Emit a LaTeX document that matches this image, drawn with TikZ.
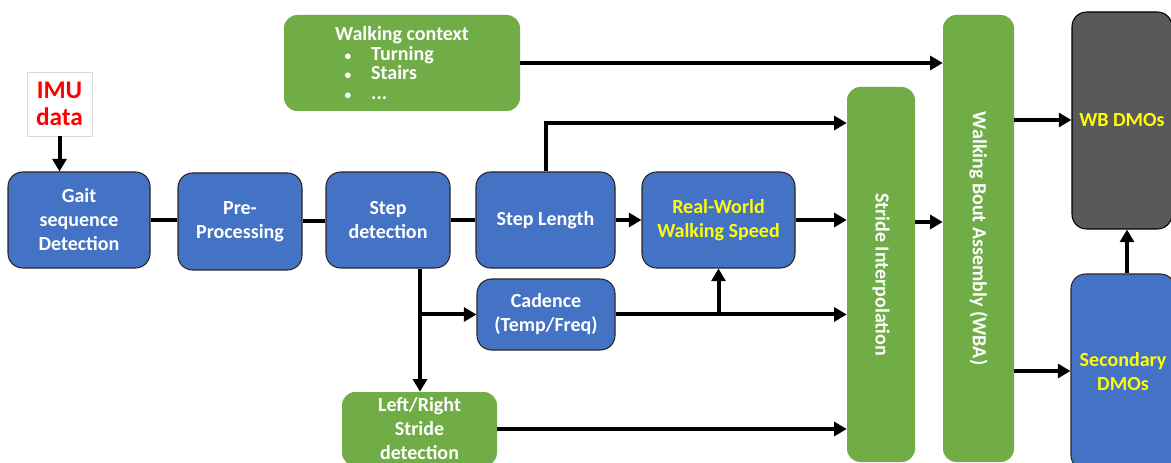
\documentclass[tikz,border=0pt]{standalone}
\usepackage{fontspec}
\setmainfont{Carlito}
\usetikzlibrary{arrows.meta}
\definecolor{blueb}{HTML}{4472C4}
\definecolor{greenb}{HTML}{70AD47}
\definecolor{grayb}{HTML}{595959}
\definecolor{yel}{HTML}{FFFF00}
\definecolor{imured}{HTML}{FF0000}
\newcommand{\smbul}{\hspace*{6.5pt}\makebox[6pt]{\fontsize{10}{10}\selectfont •}\hspace*{14.5pt}}
\begin{document}
\begin{tikzpicture}[x=0.75pt,y=-0.75pt,
  font=\bfseries\fontsize{15}{18}\selectfont,
  bluebox/.style={draw=black!85, line width=0.8pt, fill=blueb, rounded corners=11pt, text=white, align=center, inner sep=2pt},
  greenbox/.style={fill=greenb, rounded corners=10pt, text=white, align=center, inner sep=2pt},
  darkbox/.style={draw=black, line width=0.8pt, fill=grayb, rounded corners=11pt, text=yel, align=center},
  conn/.style={line width=3pt},
  arr/.style={line width=3pt, -{Triangle[length=9.5pt,width=10.5pt]}}]
\clip (0,0) rectangle (1171,463);
\fill[white] (0,0) rectangle (1171,463);
% nodes
\node[draw=black!15, line width=0.6pt, fill=white, text=imured, align=center, minimum width=48.75pt, minimum height=48pt, inner sep=1pt,
  font=\bfseries\fontsize{19}{20}\selectfont] (imu) at (59.5,104) {IMU\\data};
\node[bluebox, minimum width=106.5pt, minimum height=72pt] (gait) at (79,220) {Gait\\sequence\\Detection};
\node[bluebox, minimum width=93pt, minimum height=72.75pt] (pre) at (240,221.5) {Pre-\\Processing};
\node[bluebox, minimum width=93pt, minimum height=72pt] (stepdet) at (388,220) {Step\\detection};
\node[bluebox, minimum width=104.25pt, minimum height=72pt] (steplen) at (545.5,220) {Step Length};
\node[bluebox, minimum width=114.75pt, minimum height=72pt, text=yel] (speed) at (718.5,220) {Real-World\\Walking Speed};
\node[bluebox, minimum width=103.5pt, minimum height=53.25pt] (cad) at (546,314.5) {Cadence\\(Temp/Freq)};
\node[greenbox, minimum width=116.25pt, minimum height=55.5pt] (lr) at (419.5,429) {Left/Right\\Stride\\detection};
\node[greenbox, minimum width=177pt, minimum height=72pt, align=left, font=\bfseries\fontsize{15}{14.6}\selectfont] (ctx) at (402,63)
  {Walking context\\\smbul Turning\\\smbul Stairs\\\smbul ...};
\node[greenbox, minimum width=51pt, minimum height=281.25pt] (stride) at (881,274.5) {};
\node[text=white, rotate=-90] (stridetxt) at (stride.center) {Stride Interpolation};
\node[greenbox, minimum width=53.25pt, minimum height=335.25pt] (wba) at (978.5,238.5) {};
\node[text=white, rotate=-90] (wbatxt) at (wba.center) {Walking Bout Assembly (WBA)};
\node[darkbox, minimum width=75pt, minimum height=162.75pt] (wbdmo) at (1122,120.5) {WB DMOs};
\node[bluebox, text=yel, minimum width=78pt, minimum height=147pt] (secdmo) at (1123,372) {Secondary\\DMOs};
% connectors
\draw[arr] (imu.south) -- (imu.south |- gait.north);
\draw[conn] (gait.east) -- (gait.east -| pre.west);
\draw[conn] (pre.east) -- (pre.east -| stepdet.west);
\draw[conn] (stepdet.east) -- (stepdet.east -| steplen.west);
\draw[arr] (steplen.east) -- (steplen.east -| speed.west);
\draw[arr] (speed.east) -- (speed.east -| stride.west);
\coordinate (slup) at (545.5,123);
\draw[arr] (steplen.north) -- (slup) -- (slup -| stride.west);
\draw[arr] (ctx.east) -- (ctx.east -| wba.west);
\coordinate (sdb) at ([xshift=24pt]stepdet.south);
\draw[arr] (sdb) -- (sdb |- lr.north);
\draw[arr] (sdb |- cad.west) -- (cad.west);
\draw[arr] (cad.east) -- (cad.east -| stride.west);
\draw[arr] (cad.east -| speed.south) -- (speed.south);
\draw[arr] (lr.east) -- (lr.east -| stride.west);
\draw[arr] (stride.east |- 0,222) -- (wba.west |- 0,222);
\draw[arr] (wba.east |- 0,120) -- (wbdmo.west |- 0,120);
\draw[arr] (wba.east |- 0,371) -- (secdmo.west |- 0,371);
\draw[arr] ([xshift=3pt]secdmo.north) -- ([xshift=3pt]secdmo.north |- wbdmo.south);
\end{tikzpicture}
\end{document}
